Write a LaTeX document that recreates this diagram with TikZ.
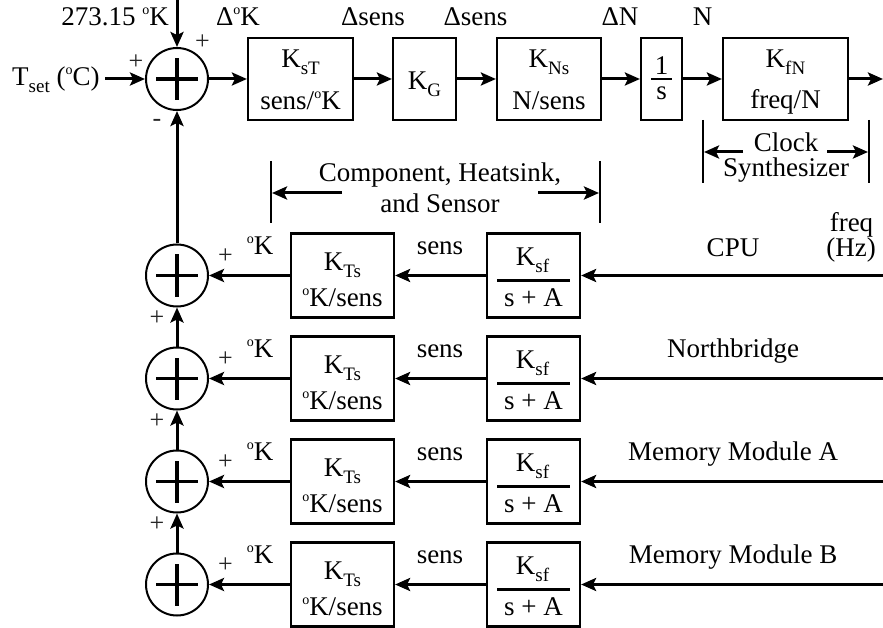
\documentclass[tikz,border=0pt]{standalone}
\usepackage{fontspec}
\setmainfont{Liberation Serif}
\usetikzlibrary{arrows.meta,calc}
\newcommand\sbs[1]{\raisebox{-7pt}{\fontsize{19}{20}\selectfont #1}}
\newcommand\dgr{\raisebox{11pt}{\fontsize{14}{14}\selectfont o}}
\begin{document}
\begin{tikzpicture}[x=1pt,y=-1pt,
  every node/.style={font=\fontsize{27}{30}\selectfont, inner sep=0pt},
  blk/.style={draw, line width=2.2pt, minimum height=82pt},
  rblk/.style={draw, line width=2.2pt, minimum height=84pt},
  sum/.style={draw, circle, line width=2pt, minimum size=62pt},
  conn/.style={line width=3pt, -{Stealth[length=15pt,width=13pt,inset=3pt]}},
  pl/.style={line width=3.2pt},
  bar/.style={line width=2.5pt},
  txt/.style={anchor=base},
  sgn/.style={anchor=center, text=black!85, font=\fontsize{26}{28}\selectfont}
]
\useasboundingbox (0,0) rectangle (883,628);

% top summing junction
\node[sum] (s0) at (177,79) {};
\draw[pl] ([xshift=-21pt]s0.center) -- ([xshift=21pt]s0.center);
\draw[pl] ([yshift=-21pt]s0.center) -- ([yshift=21pt]s0.center);

% forward path blocks
\node[blk, minimum width=105pt] (kst) at (300.5,79) {};
\node[blk, minimum width=63pt] (kg) at (424.5,79) {};
\node[blk, minimum width=104pt] (kns) at (549,79) {};
\node[blk, minimum width=41pt] (integ) at (661.5,79) {};
\node[blk, minimum width=125pt] (kfn) at (785.5,79) {};

\node[txt] (kstA) at (300.5,68) {K\sbs{sT}};
\node[txt] (kstB) at (300.5,110) {sens/\dgr K};
\node[txt] (kgA) at (424.5,90) {K\sbs{G}};
\node[txt] (knsA) at (549,68) {K\sbs{Ns}};
\node[txt] (knsB) at (549,110) {N/sens};
\node[txt] (integA) at (661.5,75) {1};
\draw[bar] (651,79) -- (672,79);
\node[txt] (integB) at (661.5,100) {s};
\node[txt] (kfnA) at (785.5,68) {K\sbs{fN}};
\node[txt] (kfnB) at (785.5,109) {freq/N};

% inputs / output
\coordinate (tin) at (105,79);
\coordinate (topin) at (177,0);
\coordinate (rout) at (883,79);
\node[anchor=base west] (tset) at (12,86) {T\sbs{set} (\dgr C)};
\node[txt] (l273) at (115,26) {273.15 \dgr K};
\node[txt] (ldk) at (238,26) {Δ\dgr K};
\node[txt] (lds1) at (373,26) {Δsens};
\node[txt] (lds2) at (475.5,26) {Δsens};
\node[txt] (ldn) at (620,26) {ΔN};
\node[txt] (ln) at (702.5,26) {N};
\node[sgn] (p0a) at (136,62) {+};
\node[sgn] (p0b) at (202.5,42.5) {+};
\node[sgn] (m0) at (157,123) {-};

\draw[conn] (tin) -- (s0.west);
\draw[conn] (topin) -- (s0.north);
\draw[conn] (s0.east) -- (kst.west);
\draw[conn] (kst.east) -- (kg.west);
\draw[conn] (kg.east) -- (kns.west);
\draw[conn] (kns.east) -- (integ.west);
\draw[conn] (integ.east) -- (kfn.west);
\draw[conn] (kfn.east) -- (rout);

% clock synthesizer bracket
\coordinate (clL1) at (703,120); \coordinate (clL2) at (703,183);
\coordinate (clR1) at (869,120); \coordinate (clR2) at (869,183);
\draw[bar] (clL1) -- (clL2);
\draw[bar] (clR1) -- (clR2);
\coordinate (clAa) at (743,152); \coordinate (clAb) at (704,152);
\coordinate (clBa) at (827,152); \coordinate (clBb) at (868,152);
\draw[conn] (clAa) -- (clAb);
\draw[conn] (clBa) -- (clBb);
\node[txt, text depth=0pt] (clk1) at (786,152) {Clock};
\node[txt, text height=18pt] (clk2) at (786,177) {Synthesizer};

% component bracket
\coordinate (cmL1) at (271,161); \coordinate (cmL2) at (271,223);
\coordinate (cmR1) at (600,161); \coordinate (cmR2) at (600,223);
\draw[bar] (cmL1) -- (cmL2);
\draw[bar] (cmR1) -- (cmR2);
\coordinate (cmAa) at (342,193); \coordinate (cmAb) at (272,193);
\coordinate (cmBa) at (538,193); \coordinate (cmBb) at (599,193);
\draw[conn] (cmAa) -- (cmAb);
\draw[conn] (cmBa) -- (cmBb);
\node[txt] (cmp1) at (440,182) {Component, Heatsink,};
\node[txt] (cmp2) at (440,213) {and Sensor};

% rows
\foreach \i/\y/\lab/\ly in {1/275.5/CPU/256.5, 2/378.5/Northbridge/357, 3/481.5/Memory Module A/460, 4/584.5/Memory Module B/563}{
  \node[sum] (c\i) at (177,\y) {};
  \draw[pl] ([xshift=-21pt]c\i.center) -- ([xshift=21pt]c\i.center);
  \draw[pl] ([yshift=-21pt]c\i.center) -- ([yshift=21pt]c\i.center);
  \node[rblk, minimum width=103pt] (kts\i) at (342.5,\y) {};
  \node[rblk, minimum width=93pt] (ksf\i) at (533.5,\y) {};
  \node[txt] (ktsA\i) at (342.5,\y-5) {K\sbs{Ts}};
  \node[txt] (ktsB\i) at (342.5,\y+31) {\dgr K/sens};
  \node[txt] (ksfA\i) at (532.5,\y-10) {K\sbs{sf}};
  \draw[bar, line width=3pt] (497,\y+5) -- (570,\y+5);
  \node[txt] (ksfB\i) at (533.5,\y+31) {s + A};
  \coordinate (in\i) at (883,\y);
  \draw[conn] (in\i) -- (ksf\i.east);
  \draw[conn] (ksf\i.west) -- (kts\i.east);
  \draw[conn] (kts\i.west) -- (c\i.east);
  \node[txt] (dk\i) at (260,\y-21) {\dgr K};
  \node[txt] (sn\i) at (440,\y-21) {sens};
  \node[sgn] (pr\i) at (225.5,\y-19) {+};
  \node[txt] (lab\i) at (733,\ly) {\lab};
}
\node[txt] (frq) at (851.5,232) {freq};
\node[txt] (hz) at (851,257) {(Hz)};

% chain
\draw[conn] (c4.north) -- (c3.south);
\draw[conn] (c3.north) -- (c2.south);
\draw[conn] (c2.north) -- (c1.south);
\draw[conn] (c1.north) -- (s0.south);
\node[sgn] (pc2) at (157,318.5) {+};
\node[sgn] (pc3) at (157,421.5) {+};
\node[sgn] (pc4) at (157,524.5) {+};
\end{tikzpicture}
\end{document}
